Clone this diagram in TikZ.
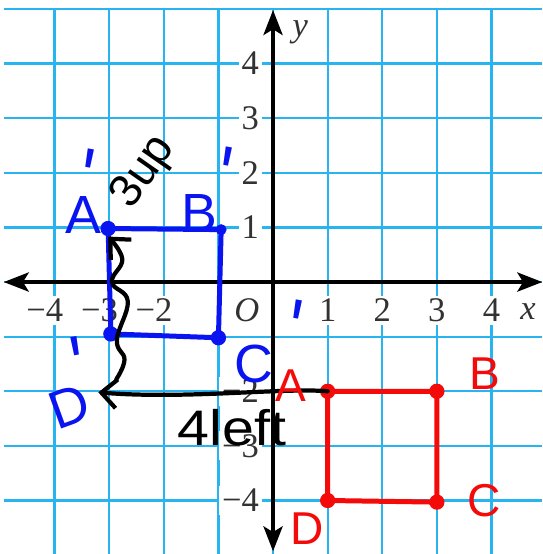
\documentclass[tikz,border=0pt]{standalone}
\usepackage{fontspec}
\usepackage{graphicx}
\usetikzlibrary{arrows.meta,positioning,calc}
\newfontfamily\hand{Liberation Sans}
\newfontfamily\tkfont{Liberation Serif}
\definecolor{gc}{RGB}{40,180,240}
\definecolor{bc}{RGB}{10,20,240}
\definecolor{rc}{RGB}{245,10,10}
\definecolor{tc}{RGB}{50,50,50}
\newcommand\hp[2]{\rlap{\kern#1\raisebox{#2}{\rotatebox{-10}{\scalebox{1.3}[1.6]{\textquotesingle}}}}}
\tikzset{gl/.style={gc,line width=1.2pt},
 ax/.style={line width=1.7pt,{Stealth[length=13pt,width=10pt,inset=3pt]}-{Stealth[length=13pt,width=10pt,inset=3pt]}},
 tk/.style={font=\tkfont\fontsize{18}{18}\selectfont,text=tc,fill=white,inner sep=1.5pt},
 pen/.style={line width=2.6pt,line cap=round,line join=round},
 blk/.style={pen,line width=2.2pt,-{Straight Barb[length=8pt,width=15pt]}},
 dt/.style={circle,fill,inner sep=0pt,minimum size=2.8mm},
 hw/.style={font=\hand\fontsize{24}{24}\selectfont,inner sep=0pt},
 hb/.style={hw,font=\hand\fontsize{28}{28}\selectfont,text=bc}}
\begin{document}
\begin{tikzpicture}[x=1cm,y=1cm]
\useasboundingbox (-5,-4.98) rectangle (4.93,5.165);
% grid
\foreach \y in {-5,...,5} \draw[gl] (-4.92,\y) -- (4.93,\y);
\foreach \x in {-4,...,4} \draw[gl] (\x,-5) -- (\x,5);
% numbers on the axes
\foreach \x in {2,3,4} \node[tk] (xn\x) at (-\x,-0.52) {\llap{\textminus}\x};
\foreach \x in {1,...,4} \node[tk] (xp\x) at (\x,-0.52) {\x};
\node[tk] (o) at (-0.48,-0.52) {\itshape O};
\node[tk,fill=none] (xl) at (4.67,-0.54) {\itshape x};
\foreach \y in {1,...,4} \node[tk,anchor=east] (yp\y) at (-0.2,\y) {\y};
\foreach \y in {2,3,4} \node[tk,anchor=east] (yn\y) at (-0.2,-\y) {\textminus\y};
\node[tk,fill=none] (yl) at (0.5,4.58) {\itshape y};
% axes
\coordinate (xw) at (-4.93,0); \coordinate (xe) at (4.93,0);
\coordinate (ys) at (0,-4.93); \coordinate (yn) at (0,4.98);
\draw[ax] (xw) -- (xe);
\draw[ax] (ys) -- (yn);
% image (blue)
\node[dt,bc] (bA) at (-3.02,0.98) {};
\node[dt,bc,minimum size=2mm] (bB) at (-0.95,0.96) {};
\node[dt,bc] (bC) at (-1.0,-1.02) {};
\node[dt,bc] (bD) at (-2.97,-0.95) {};
\draw[pen,bc] (bA.center) -- (bB.center) -- (bC.center) -- (bD.center) -- cycle;
% original (red)
\node[dt,rc] (rA) at (1,-2) {};
\node[dt,rc] (rB) at (3,-2) {};
\node[dt,rc] (rC) at (3,-4.03) {};
\node[dt,rc] (rD) at (1,-4) {};
\draw[pen,rc] (rA.center) -- (rB.center) -- (rC.center) -- (rD.center) -- cycle;
% translation arrows
\coordinate (lt) at (-3.2,-2.02);
\draw[blk] (rA.center) .. controls (0.2,-1.93) and (-1.6,-2.15) .. (lt);
\coordinate (us) at (-2.87,-1.78);
\draw[blk] plot[smooth,tension=.7] coordinates {(us) (-2.72,-1.42) (-2.86,-1.06) (-2.66,-0.35) (-2.95,0.0) (-2.76,0.42) (bA.south)};
% letters
\node[hw,text=rc] (la) at (0.33,-1.89) {A};
\node[hw,text=rc] (lb) at (3.88,-1.68) {B};
\node[hw,text=rc] (lc) at (3.86,-4.0) {C};
\node[hw,text=rc] (ld) at (0.62,-4.52) {D};
\node[hb] (lap) at (-3.48,1.67) {A\hp{-14pt}{14pt}};
\node[hb] (lbp) at (-1.34,1.70) {B\hp{-3pt}{14pt}};
\node[hb] (lcp) at (-0.35,-1.08) {C\hp{5pt}{13pt}};
\node[hb,rotate=20] (ldp) at (-3.88,-1.89) {D\hp{-4pt}{13pt}};
\node[hw,rotate=55] (up3) at (-2.36,2.0) {3up};
\node[hw,font=\hand\fontsize{26}{26}\selectfont] (left4) at (-0.75,-2.66) {\scalebox{1.15}[1]{4left}};
\end{tikzpicture}
\end{document}
